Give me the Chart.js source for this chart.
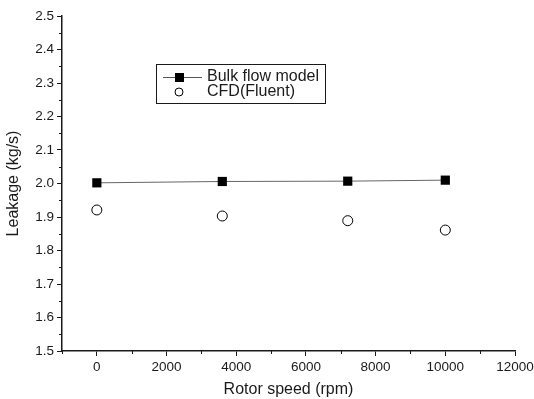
<!DOCTYPE html>
<html><head><meta charset="utf-8">
<script src="https://cdn.jsdelivr.net/npm/chart.js@4.4.1/dist/chart.umd.min.js"></script>
<style>html,body{margin:0;padding:0;background:#fff}#wrap{width:534px;height:399px}</style>
</head><body><div id="wrap"><canvas id="c" width="534" height="399"></canvas></div>
<script>
const seriesNames = ["Bulk flow model", "CFD(Fluent)"];
const bulkSpeed = [0, 3600, 7200, 10000];
const bulkLeak = [2.002, 2.006, 2.007, 2.010];
const cfdSpeed = [0, 3600, 7200, 10000];
const cfdLeak = [1.921, 1.903, 1.889, 1.861];
const xTicks = [0, 2000, 4000, 6000, 8000, 10000, 12000];
const yTicks = [1.5, 1.6, 1.7, 1.8, 1.9, 2.0, 2.1, 2.2, 2.3, 2.4, 2.5];

const ink = '#1a1a1a';
const FONT = 'Liberation Sans, Arial, sans-serif';

const minorTicks = {
  id: 'minorTicks',
  afterDraw(chart) {
    const ctx = chart.ctx, xs = chart.scales.x, ys = chart.scales.y;
    ctx.save();
    ctx.strokeStyle = ink; ctx.lineWidth = 1;
    ctx.beginPath();
    for (let i = 0; i < yTicks.length - 1; i++) {
      const v = (yTicks[i] + yTicks[i + 1]) / 2;
      const p = Math.round(ys.getPixelForValue(v)) + 0.5;
      ctx.moveTo(xs.left - 3, p); ctx.lineTo(xs.left, p);
    }
    const xm = [-1000];
    for (let i = 0; i < xTicks.length - 1; i++) xm.push((xTicks[i] + xTicks[i + 1]) / 2);
    xm.forEach(v => {
      const p = Math.round(xs.getPixelForValue(v)) + 0.5;
      ctx.moveTo(p, ys.bottom); ctx.lineTo(p, ys.bottom + 3);
    });
    ctx.stroke();
    ctx.restore();
  }
};

const boxLegend = {
  id: 'boxLegend',
  afterDraw(chart) {
    const ctx = chart.ctx;
    const x0 = 156, y0 = 64, w = 169, h = 39;
    ctx.save();
    ctx.strokeStyle = ink; ctx.lineWidth = 1;
    ctx.strokeRect(x0 + 0.5, y0 + 0.5, w, h);
    const r1 = 77, r2 = 92, mx = 179;
    ctx.strokeStyle = '#555';
    ctx.beginPath(); ctx.moveTo(x0 + 7, r1 + 0.5); ctx.lineTo(x0 + 46, r1 + 0.5); ctx.stroke();
    ctx.fillStyle = '#000';
    ctx.fillRect(mx - 4, r1 - 4, 9, 9);
    ctx.strokeStyle = '#000';
    ctx.beginPath(); ctx.arc(mx, r2, 4, 0, Math.PI * 2); ctx.stroke();
    ctx.fillStyle = ink;
    ctx.font = '16px ' + FONT;
    ctx.textBaseline = 'middle';
    ctx.fillText(chart.data.datasets[0].label, 207, r1);
    ctx.fillText(chart.data.datasets[1].label, 207, r2);
    ctx.restore();
  }
};

new Chart(document.getElementById('c'), {
  type: 'scatter',
  data: {
    datasets: [
      {
        label: seriesNames[0],
        data: bulkSpeed.map((x, i) => ({x, y: bulkLeak[i]})),
        showLine: true,
        borderColor: '#666', borderWidth: 1,
        pointStyle: 'rect', pointRadius: 6.5, pointBackgroundColor: '#000', pointBorderColor: '#000', pointBorderWidth: 0
      },
      {
        label: seriesNames[1],
        data: cfdSpeed.map((x, i) => ({x, y: cfdLeak[i]})),
        showLine: false,
        pointStyle: 'circle', pointRadius: 5, pointBackgroundColor: '#fff', pointBorderColor: '#000', pointBorderWidth: 1
      }
    ]
  },
  options: {
    responsive: false, animation: false,
    layout: { padding: { top: 16, right: 19, left: 0, bottom: 0 } },
    plugins: { legend: { display: false }, tooltip: { enabled: false } },
    scales: {
      x: {
        type: 'linear', min: -1000, max: 12000,
        afterBuildTicks: s => { s.ticks = xTicks.map(v => ({value: v})); },
        afterFit: s => { s.height = 48; s.paddingRight = 0; s.paddingLeft = 0; },
        border: { color: ink, width: 1.5 },
        grid: { drawOnChartArea: false, tickLength: 5, color: ink },
        ticks: { color: ink, font: { family: FONT, size: 13.5 }, padding: 3, maxRotation: 0, callback: v => String(v) },
        title: { display: true, text: 'Rotor speed (rpm)', color: ink, font: { family: FONT, size: 16 }, padding: { top: 4, bottom: 0 } }
      },
      y: {
        type: 'linear', min: 1.5, max: 2.5,
        afterBuildTicks: s => { s.ticks = yTicks.map(v => ({value: v})); },
        afterFit: s => { s.width = 62; },
        border: { color: ink, width: 1.5 },
        grid: { drawOnChartArea: false, tickLength: 5, color: ink },
        ticks: { color: ink, font: { family: FONT, size: 13.5 }, padding: 3, callback: v => v.toFixed(1) },
        title: { display: true, text: 'Leakage (kg/s)', color: ink, font: { family: FONT, size: 16 }, padding: { top: 4, bottom: 0 } }
      }
    }
  },
  plugins: [minorTicks, boxLegend]
});
</script></body></html>
